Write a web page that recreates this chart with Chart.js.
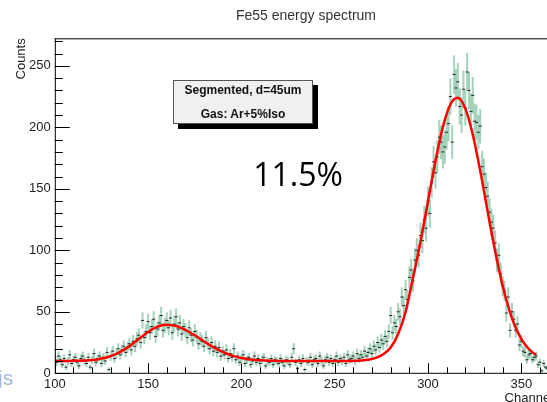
<!DOCTYPE html>
<html>
<head>
<meta charset="utf-8">
<script src="https://cdn.jsdelivr.net/npm/chart.js@4"></script>
<style>
  html, body { margin: 0; padding: 0; background: #fff; overflow: hidden; width: 547px; height: 402px; }
  #wrap { position: relative; width: 547px; height: 402px; overflow: hidden; font-family: "Liberation Sans", Arial, sans-serif; }
  #chartBox { position: absolute; left: 0; top: 0; width: 558px; height: 406px; }
  .txt { position: absolute; white-space: nowrap; }
  #title { left: 306px; top: 15px; transform: translate(-50%, -50%); font-size: 14px; color: #333; }
  #pave { left: 173px; top: 80px; width: 138px; height: 42px; background: #f0f0f0; border: 1px solid #555; box-shadow: 5px 5px 0 #000; }
  #pave div { position: absolute; left: 0; width: 100%; text-align: center; font-weight: bold; font-size: 12px; color: #111; }
  #res { left: 298px; top: 173px; transform: translate(-50%, -50%); font-size: 32px; color: #000; font-family: "Open Sans", "Liberation Sans", sans-serif; }
  #frag { left: -2px; top: 366px; font-size: 21px; color: #9fb6df; }
</style>
</head>
<body>
<div id="wrap">
  <div id="chartBox"><canvas id="spectrum" width="558" height="406"></canvas></div>
  <div class="txt" id="title">Fe55 energy spectrum</div>
  <div class="txt" id="pave">
    <div style="top:2px">Segmented, d=45um</div>
    <div style="top:26px">Gas: Ar+5%Iso</div>
  </div>
  <div class="txt" id="res">11.5%</div>
  <div class="txt" id="frag">js</div>
</div>
<script>
// histogram, one bin per channel starting at channel 100
const firstChannel = 100;
const counts = [
  13, 9, 14, 11, 7, 12, 5, 10, 15, 8,
  11, 13, 9, 6, 12, 14, 10, 8, 13, 5,
  11, 16, 9, 12, 14, 8, 13, 10, 17, 3,
  14, 18, 12, 16, 20, 15, 19, 22, 17, 21,
  24, 19, 26, 22, 28, 31, 25, 43, 29, 34,
  42, 33, 38, 44, 30, 36, 41, 47, 35, 39,
  43, 37, 45, 33, 40, 46, 36, 41, 32, 38,
  35, 29, 37, 31, 27, 34, 30, 24, 28, 26,
  22, 29, 24, 20, 25, 18, 22, 17, 21, 14,
  18, 15, 19, 12, 16, 13, 20, 11, 14, 9,
  12, 15, 8, 11, 13, 7, 10, 14, 9, 12,
  8, 11, 13, 6, 10, 9, 12, 7, 11, 10,
  8, 12, 9, 6, 11, 10, 7, 13, 20, 9,
  4, 11, 8, 12, 3, 10, 9, 13, 7, 11,
  12, 8, 14, 10, 6, 11, 13, 9, 12, 8,
  11, 14, 9, 12, 10, 13, 8, 15, 11, 12,
  14, 10, 16, 12, 15, 13, 18, 14, 17, 20,
  16, 22, 19, 25, 21, 27, 24, 30, 26, 34,
  47, 33, 41, 38, 50, 46, 62, 55, 68, 60,
  78, 84, 75, 92, 100, 96, 112, 108, 125, 118,
  140, 130, 155, 172, 163, 176, 192, 188, 180, 184,
  196, 203, 225, 188, 243, 232, 237, 217, 210, 231,
  216, 245, 230, 213, 226, 205, 204, 196, 201, 168,
  162, 151, 144, 131, 123, 118, 106, 92, 96, 81,
  71, 67, 49, 62, 35, 50, 44, 35, 40, 23,
  26, 18, 17, 11, 15, 16, 11, 13, 14, 7,
  9, 2, 8, 5, 4
];

// red fit curve
const fitChannels = [
  100, 104, 108, 112, 116, 120, 124, 128, 132, 136, 140, 144, 148, 152, 156, 160,
  164, 168, 172, 176, 180, 184, 188, 192, 196, 200, 204, 208, 212, 216, 220, 224,
  228, 232, 236, 240, 244, 248, 252, 256, 260, 264, 268, 272, 276, 280, 284, 288,
  292, 296, 300, 304, 308, 312, 316, 320, 324, 328, 332, 336, 340, 344, 348, 352,
  356, 358
];
const fitValues = [
  10.0, 10.0, 10.1, 10.2, 10.4, 10.8, 11.7, 13.0, 15.2, 18.2, 22.1, 26.7, 31.4, 35.6, 38.5, 39.5,
  38.8, 36.7, 33.6, 29.9, 25.9, 22.1, 18.8, 16.1, 14.0, 12.5, 11.5, 10.8, 10.5, 10.2, 10.1, 10.0,
  10.0, 10.0, 10.0, 10.0, 10.0, 10.0, 10.0, 10.0, 10.1, 10.4, 11.0, 12.5, 15.5, 21.0, 32.0, 50.0,
  77.8, 107.0, 139.8, 172.5, 200.4, 218.6, 224.0, 215.2, 194.2, 164.6, 131.4, 99.2, 71.4, 49.4, 33.7, 23.4,
  17.0, 15.0
];

const xTicks = [100, 150, 200, 250, 300, 350];
const yTicks = [0, 50, 100, 150, 200, 250];

document.addEventListener("DOMContentLoaded", function () {
  const histPoints = counts.map((c, i) => ({ x: firstChannel + i, y: c }));
  const fitPoints = fitChannels.map((ch, i) => ({ x: ch, y: fitValues[i] }));

  // green sqrt(N) error bars under the points
  const errorBars = {
    id: "errorBars",
    beforeDatasetsDraw(chart) {
      const ctx = chart.ctx;
      const xs = chart.scales.x;
      const ys = chart.scales.y;
      const area = chart.chartArea;
      ctx.save();
      ctx.beginPath();
      ctx.rect(area.left, area.top, area.right - area.left, area.bottom - area.top);
      ctx.clip();
      ctx.strokeStyle = "rgba(105, 180, 140, 0.6)";
      ctx.lineWidth = 2;
      histPoints.forEach((p) => {
        const err = Math.sqrt(p.y);
        const px = xs.getPixelForValue(p.x);
        ctx.beginPath();
        ctx.moveTo(px, ys.getPixelForValue(p.y - err));
        ctx.lineTo(px, ys.getPixelForValue(p.y + err));
        ctx.stroke();
      });
      ctx.restore();
    },
  };

  // ROOT style frame with inward ticks
  const rootFrame = {
    id: "rootFrame",
    afterDraw(chart) {
      const ctx = chart.ctx;
      const xs = chart.scales.x;
      const ys = chart.scales.y;
      const a = chart.chartArea;
      ctx.save();
      ctx.strokeStyle = "#000";
      ctx.lineWidth = 1;
      ctx.beginPath();
      ctx.moveTo(a.left, a.top + 0.5);
      ctx.lineTo(a.right, a.top + 0.5);
      ctx.moveTo(a.left + 0.5, a.top);
      ctx.lineTo(a.left + 0.5, a.bottom);
      ctx.lineTo(a.right, a.bottom);
      ctx.moveTo(a.right - 0.5, a.top);
      ctx.lineTo(a.right - 0.5, a.bottom);
      for (let v = 0; v <= ys.max; v += 10) {
        const py = Math.round(ys.getPixelForValue(v)) + 0.5;
        const len = v % 50 === 0 ? 15 : 8;
        ctx.moveTo(a.left, py);
        ctx.lineTo(a.left + len, py);
      }
      for (let v = xs.min; v <= xs.max; v += 10) {
        const px = Math.round(xs.getPixelForValue(v)) + 0.5;
        const len = v % 50 === 0 ? 10 : 6;
        ctx.moveTo(px, a.bottom);
        ctx.lineTo(px, a.bottom - len);
      }
      ctx.stroke();
      ctx.restore();
    },
  };

  const ctx = document.getElementById("spectrum").getContext("2d");
  new Chart(ctx, {
    type: "line",
    data: {
      datasets: [
        {
          label: "fit",
          data: fitPoints,
          borderColor: "#ff0000",
          borderWidth: 2.5,
          pointRadius: 0,
          fill: false,
          cubicInterpolationMode: "monotone",
          order: 0,
        },
        {
          label: "data",
          data: histPoints,
          showLine: false,
          pointStyle: "line",
          pointRadius: 1.5,
          borderColor: "#222",
          borderWidth: 1,
          order: 1,
        },
      ],
    },
    options: {
      responsive: false,
      animation: false,
      events: [],
      layout: { padding: { top: 38.3, right: 3.9, left: 0, bottom: 0 } },
      plugins: { legend: { display: false }, tooltip: { enabled: false } },
      scales: {
        x: {
          type: "linear",
          min: 100,
          max: 367,
          afterFit: (s) => { s.height = 32.7; },
          afterBuildTicks: (s) => { s.ticks = xTicks.map((v) => ({ value: v })); },
          grid: { display: false, drawTicks: false },
          border: { display: false },
          ticks: { padding: 3, color: "#222", font: { family: "Liberation Sans", size: 13 } },
          title: {
            display: true,
            text: "Channel",
            align: "end",
            color: "#222",
            padding: { top: 0, bottom: 0 },
            font: { family: "Liberation Sans", size: 13 },
          },
        },
        y: {
          type: "linear",
          min: 0,
          max: 272.4,
          afterFit: (s) => { s.width = 54.8; },
          afterBuildTicks: (s) => { s.ticks = yTicks.map((v) => ({ value: v })); },
          grid: { display: false, drawTicks: false },
          border: { display: false },
          ticks: { padding: 4, color: "#222", font: { family: "Liberation Sans", size: 13 } },
          title: {
            display: true,
            text: "Counts",
            align: "end",
            color: "#222",
            padding: { top: 14, bottom: 0 },
            font: { family: "Liberation Sans", size: 13 },
          },
        },
      },
    },
    plugins: [errorBars, rootFrame],
  });
});
</script>
</body>
</html>
